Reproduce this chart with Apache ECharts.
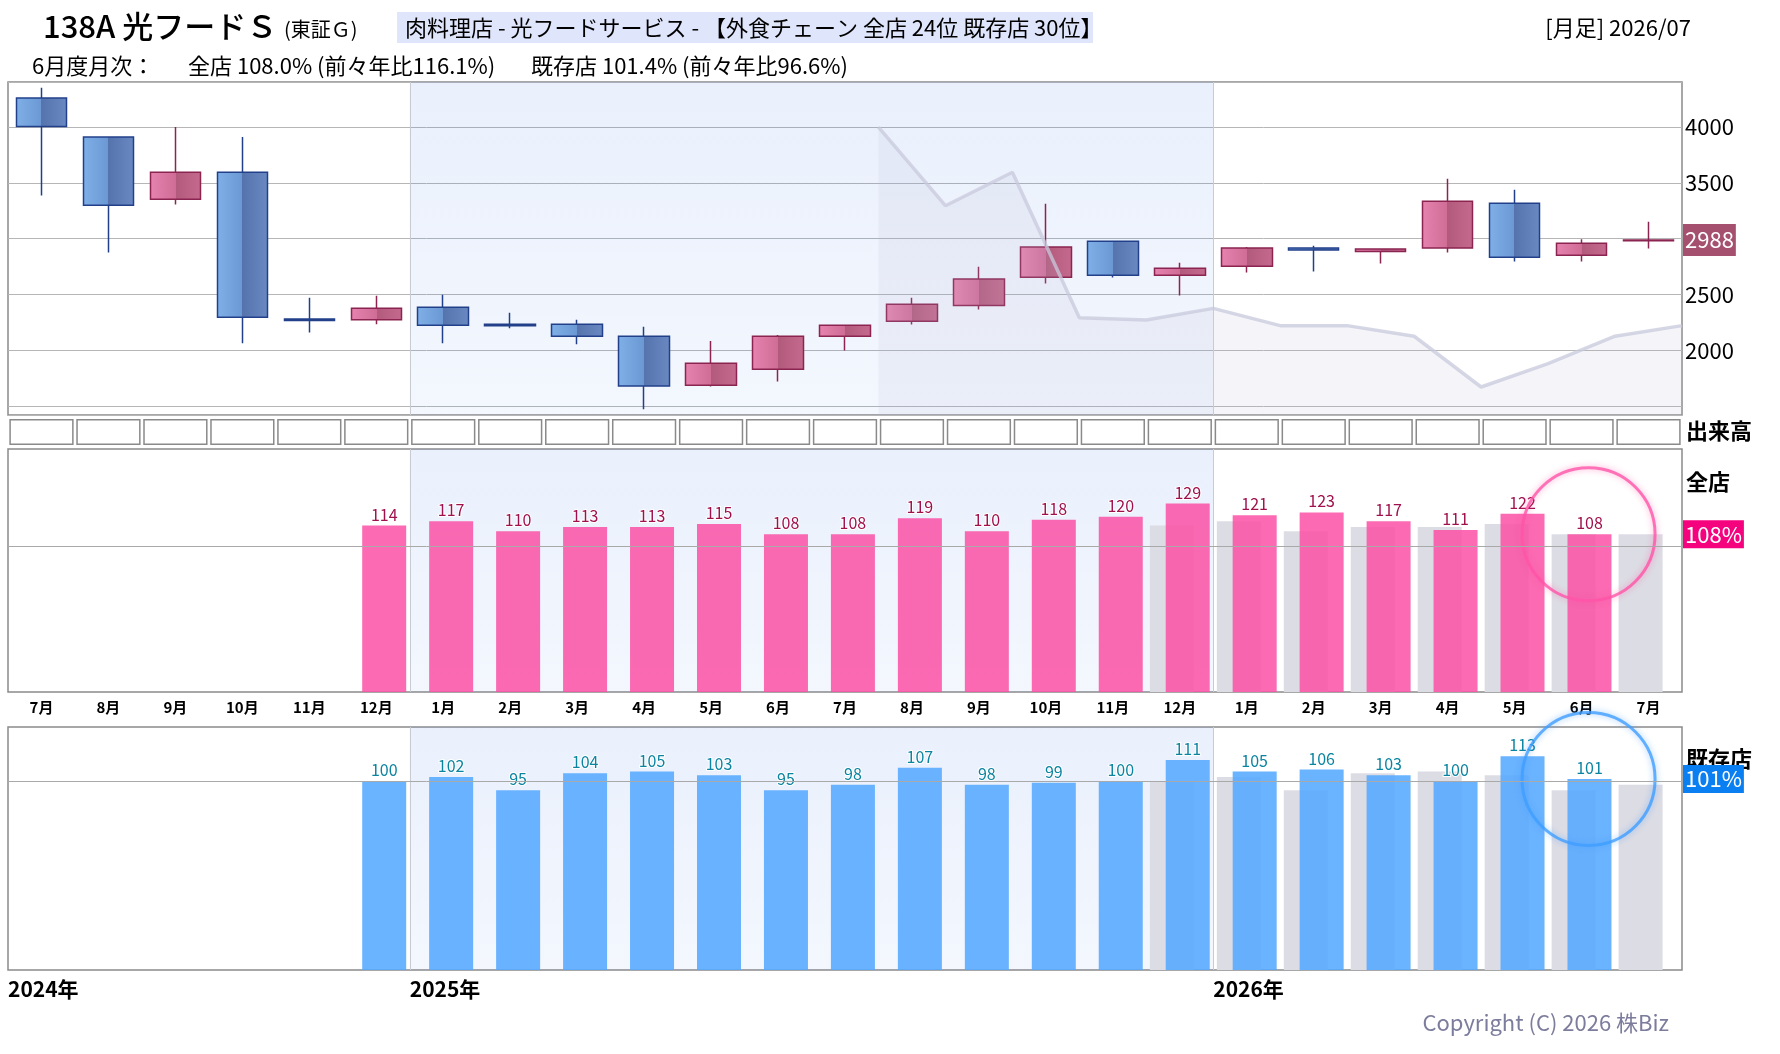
<!DOCTYPE html>
<html>
<head>
<meta charset="utf-8">
<title>138A 光フードＳ 月足</title>
<script src="https://cdn.jsdelivr.net/npm/echarts@6/dist/echarts.min.js"></script>
<style>
html,body{margin:0;padding:0;background:#fff;}
#chart{width:1780px;height:1054px;}
</style>
</head>
<body>
<div id="chart"></div>
<script>
// 月（2024/07〜2026/07）
var months = ['2024/07','2024/08','2024/09','2024/10','2024/11','2024/12',
  '2025/01','2025/02','2025/03','2025/04','2025/05','2025/06','2025/07','2025/08','2025/09','2025/10','2025/11','2025/12',
  '2026/01','2026/02','2026/03','2026/04','2026/05','2026/06','2026/07'];
var monthLabels = ['7月','8月','9月','10月','11月','12月','1月','2月','3月','4月','5月','6月',
  '7月','8月','9月','10月','11月','12月','1月','2月','3月','4月','5月','6月','7月'];
var yearLabels = ['2024年','2025年','2026年'];

// 月足 [始値, 終値, 安値, 高値]
var candles = [
  [4260,4006,3387,4353],[3910,3300,2876,3915],[3354,3596,3306,4000],[3596,2296,2063,3910],
  [2280,2266,2158,2469],[2272,2376,2233,2487],[2385,2224,2063,2496],[2232,2220,2197,2335],
  [2233,2125,2054,2272],[2125,1680,1470,2209],[1686,1883,1674,2083],[1829,2125,1719,2137],
  [2125,2224,1997,2228],[2260,2412,2230,2469],[2400,2637,2364,2747],[2654,2924,2598,3312],
  [2977,2672,2651,2980],[2672,2735,2490,2783],[2753,2915,2696,2924],[2915,2897,2705,2936],
  [2885,2906,2777,2910],[2915,3336,2876,3537],[3318,2834,2795,3438],[2852,2959,2795,2995],
  [2980,2988,2912,3151]
];
// 比較ライン（2025/08 の月初から）
var refLineStart = 13;
var refLine = [4000,3295,3595,2290,2270,2375,2220,2220,2125,1670,1880,2125,2220];

// 月次 全店 / 既存店（%）
var allStore = [null,null,null,null,null,114,117,110,113,113,115,108,108,119,110,118,120,129,121,123,117,111,122,108,null];
var allStorePrev = [null,null,null,null,null,null,null,null,null,null,null,null,null,null,null,null,null,114,117,110,113,113,115,108,108];
var existStore = [null,null,null,null,null,100,102,95,104,105,103,95,98,107,98,99,100,111,105,106,103,100,113,101,null];
var existStorePrev = [null,null,null,null,null,null,null,null,null,null,null,null,null,null,null,null,null,100,102,95,104,105,103,95,98];
// 出来高（枠のみ）
var volumeBox = [1,1,1,1,1,1,1,1,1,1,1,1,1,1,1,1,1,1,1,1,1,1,1,1,1];

var FONT = '"Noto Sans CJK JP", "Noto Sans", sans-serif';
var s2025 = months.indexOf('2025/01');
var s2026 = months.indexOf('2026/01');
var yearStart = [0, s2025, s2026];
var lastIdx = 23;
var lastClose = candles[candles.length - 1][1];

function grad(c1, c2) {
  return {type:'linear', x:0, y:0, x2:0, y2:1, colorStops:[{offset:0,color:c1},{offset:1,color:c2}]};
}
function hgrad(a, b, c, d) {
  return {type:'linear', x:0, y:0, x2:1, y2:0, colorStops:[
    {offset:0,color:a},{offset:0.5,color:b},{offset:0.5,color:c},{offset:1,color:d}]};
}
var shade = {
  silent: true,
  itemStyle: {color: grad('rgba(59,120,231,0.11)', 'rgba(59,120,231,0.06)')},
  data: [[{xAxis: s2025}, {xAxis: s2026}]]
};
var sepLine = {
  silent: true, symbol: ['none','none'], label: {show:false},
  lineStyle: {color:'#c9cbd3', width:1, type:'solid'},
  data: [{xAxis: s2025}, {xAxis: s2026}]
};
function badge(val, text, bg, pad) {
  return {yAxis: val, lineStyle: {color:'rgba(0,0,0,0)', width:0},
    label: {show:true, position:'end', distance:1, formatter: text, color:'#fff',
      backgroundColor: bg, fontSize: 22, padding: pad, fontFamily: FONT}};
}
function barLabel(color) {
  return {show:true, position:'top', distance:3, color: color, fontSize:16,
    textBorderColor:'#fff', textBorderWidth:2, fontFamily: FONT};
}

var chart = echarts.init(document.getElementById('chart'));
chart.setOption({
  animation: false,
  backgroundColor: '#fff',
  textStyle: {fontFamily: FONT},
  grid: [
    {left:8, right:98, top:82, height:333, show:true, borderColor:'#8a8a8a', borderWidth:1.5},
    {left:8, right:98, top:419, height:26},
    {left:8, right:98, top:449, height:243, show:true, borderColor:'#8a8a8a', borderWidth:1.5},
    {left:8, right:98, top:727, height:243, show:true, borderColor:'#8a8a8a', borderWidth:1.5}
  ],
  xAxis: [
    {gridIndex:0, type:'category', data:months, show:false},
    {gridIndex:0, type:'value', min:0, max:months.length, show:false},
    {gridIndex:1, type:'category', data:months, show:false},
    {gridIndex:2, type:'category', data:months, position:'bottom', axisLine:{show:false}, axisTick:{show:false},
      axisLabel:{interval:0, margin:8, fontSize:15, fontWeight:'bold', color:'#000',
        formatter: function (v, i) { return monthLabels[i]; }}},
    {gridIndex:2, type:'value', min:0, max:months.length, show:false},
    {gridIndex:3, type:'category', data:months, show:false},
    {gridIndex:3, type:'value', min:0, max:months.length, position:'bottom', splitLine:{show:false},
      axisLine:{show:false}, axisTick:{show:false},
      axisLabel:{customValues: yearStart, align:'left', margin:9, fontSize:21, fontWeight:'bold', color:'#000',
        formatter: function (v) { return yearLabels[yearStart.indexOf(v)]; }}}
  ],
  yAxis: [
    {gridIndex:0, type:'value', position:'right', min:1419, max:4404, splitNumber:6,
      axisLine:{show:false}, axisTick:{show:false},
      axisLabel:{showMinLabel:false, showMaxLabel:false, margin:3, fontSize:22, color:'#000',
        formatter: function (v) { return v === 1500 ? '' : v; }},
      splitLine:{lineStyle:{color:'#b6b6b6', width:1}}},
    {gridIndex:1, type:'value', min:0, max:1, show:false},
    {gridIndex:2, type:'value', min:0, max:166.4, show:false},
    {gridIndex:3, type:'value', min:0, max:128.5, show:false}
  ],
  graphic: [
    {type:'text', x:43, y:26, style:{text:'138A 光フードＳ', font:'500 31px ' + FONT, fill:'#000', verticalAlign:'middle'}},
    {type:'text', x:284, y:29, style:{text:'(東証Ｇ)', font:'20px ' + FONT, fill:'#000', verticalAlign:'middle'}},
    {type:'rect', shape:{x:397, y:12, width:696, height:31}, style:{fill:'#dfe5fb'}},
    {type:'text', x:405, y:28, style:{text:'肉料理店 - 光フードサービス - 【外食チェーン 全店 24位 既存店 30位】', font:'22px ' + FONT, fill:'#000', verticalAlign:'middle'}},
    {type:'text', x:1691, y:28, style:{text:'[月足] 2026/07', font:'22px ' + FONT, fill:'#000', align:'right', verticalAlign:'middle'}},
    {type:'text', x:32, y:66, style:{text:'6月度月次：', font:'22px ' + FONT, fill:'#000', verticalAlign:'middle'}},
    {type:'text', x:188, y:66, style:{text:'全店 108.0% (前々年比116.1%)', font:'22px ' + FONT, fill:'#000', verticalAlign:'middle'}},
    {type:'text', x:531, y:66, style:{text:'既存店 101.4% (前々年比96.6%)', font:'22px ' + FONT, fill:'#000', verticalAlign:'middle'}},
    {type:'text', x:1686, y:431, style:{text:'出来高', font:'bold 22px ' + FONT, fill:'#000', verticalAlign:'middle'}},
    {type:'text', x:1686, y:482, style:{text:'全店', font:'bold 22px ' + FONT, fill:'#000', verticalAlign:'middle'}},
    {type:'text', x:1686, y:759, style:{text:'既存店', font:'bold 22px ' + FONT, fill:'#000', verticalAlign:'middle'}},
    {type:'text', x:1669, y:1023, style:{text:'Copyright (C) 2026 株Biz', font:'22px ' + FONT, fill:'#7c7c9c', align:'right', verticalAlign:'middle'}}
  ],
  series: [
    // 価格パネル：比較ライン＋2025年の網掛け
    {type:'line', xAxisIndex:1, yAxisIndex:0, symbol:'none', silent:true,
      data: refLine.map(function (v, i) { return [refLineStart + i, v]; }),
      lineStyle:{color:'rgba(200,202,220,0.75)', width:3.5},
      areaStyle:{color:'rgba(185,185,210,0.2)', origin:'start'},
      markArea: shade, markLine: sepLine},
    {type:'candlestick', xAxisIndex:0, yAxisIndex:0, data: candles, barWidth: 51, silent:true,
      itemStyle:{
        color: hgrad('#e683ae','#cf6d97','#b25a7c','#c56a8e'),
        color0: hgrad('#80b0e8','#6b98d3','#5574ae','#6a89c3'),
        borderColor:'#8b2450', borderColor0:'#22408a', borderWidth:1.5
      },
      markLine:{silent:true, symbol:['none','none'], data:[badge(lastClose, String(lastClose), '#a5506f', [6,2,4,2])]}},
    // 出来高（空枠）
    {type:'bar', xAxisIndex:2, yAxisIndex:1, data: volumeBox, barWidth:'96%', silent:true,
      itemStyle:{color:'#fff', borderColor:'#8a8a8a', borderWidth:1.5}},
    // 全店
    {type:'line', xAxisIndex:4, yAxisIndex:2, data:[], silent:true, markArea: shade, markLine: sepLine},
    {type:'bar', xAxisIndex:3, yAxisIndex:2, data: allStorePrev, barWidth:44, barGap:'-64%', silent:true,
      itemStyle:{color:'#dcdce4'}},
    {type:'bar', xAxisIndex:3, yAxisIndex:2, data: allStore, barWidth:44, barGap:'-64%', silent:true,
      itemStyle:{color:'rgba(250,82,165,0.86)'}, label: barLabel('#a0104c'),
      markLine:{silent:true, symbol:['none','none'], data:[
        {yAxis:100, label:{show:false}, lineStyle:{color:'#a9a9a9', width:1, type:'solid'}},
        badge(allStore[lastIdx], allStore[lastIdx] + '%', '#f5037f', [4,2,2,2])]}},
    {type:'scatter', xAxisIndex:3, yAxisIndex:2, data:[[lastIdx, allStore[lastIdx]]], symbolSize:133, symbolOffset:[7,0], silent:true,
      itemStyle:{color:'rgba(0,0,0,0)', borderColor:'#ff54a8', borderWidth:3, shadowBlur:6, shadowColor:'rgba(255,80,160,0.6)'}},
    // 既存店
    {type:'line', xAxisIndex:6, yAxisIndex:3, data:[], silent:true, markArea: shade, markLine: sepLine},
    {type:'bar', xAxisIndex:5, yAxisIndex:3, data: existStorePrev, barWidth:44, barGap:'-64%', silent:true,
      itemStyle:{color:'#dcdce4'}},
    {type:'bar', xAxisIndex:5, yAxisIndex:3, data: existStore, barWidth:44, barGap:'-64%', silent:true,
      itemStyle:{color:'rgba(85,168,255,0.88)'}, label: barLabel('#0b84a0'),
      markLine:{silent:true, symbol:['none','none'], data:[
        {yAxis:100, label:{show:false}, lineStyle:{color:'#a9a9a9', width:1, type:'solid'}},
        badge(existStore[lastIdx], existStore[lastIdx] + '%', '#0a7ff2', [4,2,2,2])]}},
    {type:'scatter', xAxisIndex:5, yAxisIndex:3, data:[[lastIdx, existStore[lastIdx]]], symbolSize:133, symbolOffset:[7,0], silent:true,
      itemStyle:{color:'rgba(0,0,0,0)', borderColor:'#3f9dff', borderWidth:3, shadowBlur:6, shadowColor:'rgba(60,150,255,0.6)'}}
  ]
});
</script>
</body>
</html>
